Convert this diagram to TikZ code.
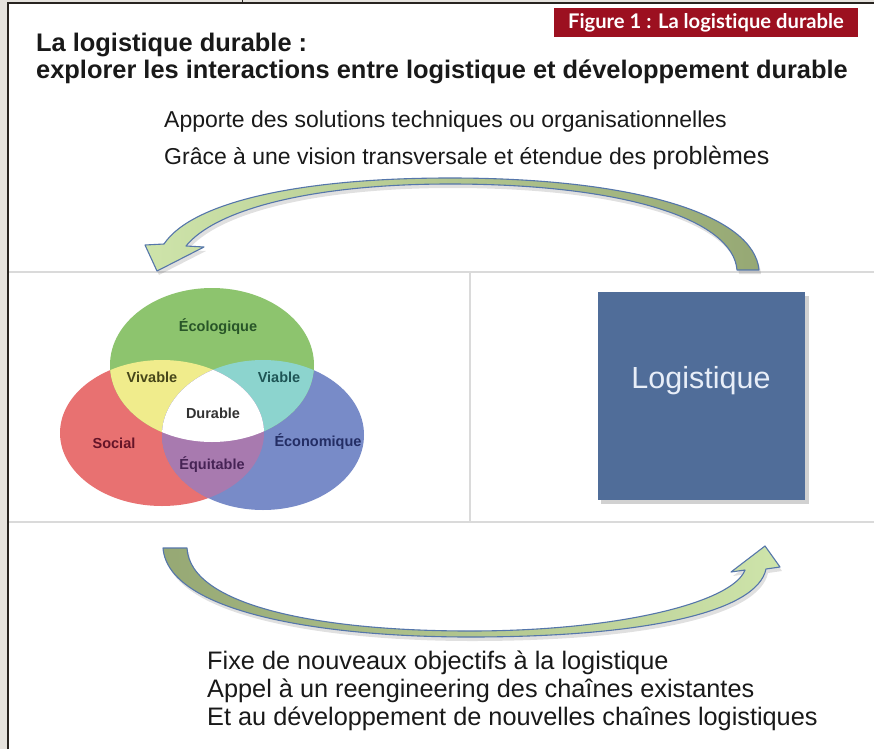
\documentclass[tikz,border=0pt]{standalone}
\usepackage{fontspec}
\setmainfont{Liberation Sans}
\newfontfamily\figfont[Ligatures=CommonOff]{Lato}
\definecolor{bggrey}{RGB}{230,227,222}
\definecolor{borderc}{RGB}{40,36,32}
\definecolor{figred}{RGB}{156,16,32}
\definecolor{sepgrey}{RGB}{218,218,218}
\definecolor{txtgrey}{RGB}{25,25,25}
\definecolor{vgreen}{RGB}{141,196,110}
\definecolor{vred}{RGB}{232,113,113}
\definecolor{vblue}{RGB}{120,139,200}
\definecolor{vyellow}{RGB}{240,236,140}
\definecolor{vteal}{RGB}{140,212,206}
\definecolor{vpurple}{RGB}{168,122,175}
\definecolor{logblue}{RGB}{80,109,153}
\definecolor{logtext}{RGB}{232,238,248}
\definecolor{arrlight}{RGB}{206,228,170}
\definecolor{arrdark}{RGB}{150,168,116}
\definecolor{arredge}{RGB}{85,118,170}
\newcommand{\TopArrowPath}{(759,270) .. controls (754,216) and (640,178) .. (450,178)
 .. controls (300,178) and (192,202) .. (164,244)
 -- (145,245) -- (157,271) -- (204,247) -- (186,246)
 .. controls (215,210) and (310,184) .. (450,184)
 .. controls (626,184) and (733,220) .. (737,270) -- cycle}
\newcommand{\BotArrowPath}{(163,548) .. controls (168,612) and (320,637) .. (470,637)
 .. controls (645,637) and (757,612) .. (766,569)
 -- (780,567) -- (765,546) -- (731,572) -- (745,570)
 .. controls (733,602) and (620,631) .. (470,631)
 .. controls (320,631) and (190,606) .. (187,548) -- cycle}
\begin{document}
\begin{tikzpicture}[x=1pt,y=-1pt,
  titletext/.style={anchor=base west, text=txtgrey, font=\bfseries\fontsize{25.4}{27}\selectfont, inner sep=0pt},
  toptext/.style={anchor=base west, text=txtgrey, font=\fontsize{23}{26}\selectfont, inner sep=0pt},
  bottext/.style={anchor=base west, text=txtgrey, font=\fontsize{25.3}{28}\selectfont, inner sep=0pt},
  venntext/.style={font=\bfseries\fontsize{14.5}{16}\selectfont, inner sep=0pt},
  sepline/.style={draw=sepgrey, line width=2pt},
  arrowedge/.style={draw=arredge, line width=1.1pt},
  shadowfill/.style={fill=black, opacity=0.12}
]
\useasboundingbox (0,0) rectangle (874,749);
% background and frame
\fill[bggrey] (0,0) rectangle (874,749);
\fill[white] (8,3) rectangle (874,749);
\draw[borderc, line width=1.4pt] (8,749) -- (8,3) -- (874,3);
\draw[borderc, line width=0.8pt] (242,0) -- (242,3);

% figure label
\node[fill=figred, text=white, font=\figfont\bfseries\fontsize{20.2}{20}\selectfont,
  minimum width=304pt, minimum height=29pt, inner sep=0pt] (figlabel) at (706,22.5) {Figure 1 : La logistique durable};

% title
\node[titletext] (title1) at (36,52) {La logistique durable :};
\node[titletext] (title2) at (36,79) {explorer les interactions entre logistique et développement durable};

% top texts
\node[toptext] (top1) at (164,128) {Apporte des solutions techniques ou organisationnelles};
\node[toptext] (top2) at (164,164) {Grâce à une vision transversale et étendue des {\fontsize{25}{26}\selectfont problèmes}};

% separators
\draw[sepline] (9,272) -- (874,272);
\draw[sepline] (9,522) -- (874,522);
\draw[sepline] (470,272) -- (470,522);

% top arrow
\begin{scope}[shift={(2,4)}]
  \fill[shadowfill] \TopArrowPath;
\end{scope}
\shade[left color=arrlight, right color=arrdark] \TopArrowPath;
\draw[arrowedge, line join=round] \TopArrowPath;

% bottom arrow
\begin{scope}[shift={(2,4)}]
  \fill[shadowfill] \BotArrowPath;
\end{scope}
\shade[left color=arrdark, right color=arrlight] \BotArrowPath;
\draw[arrowedge, line join=round] \BotArrowPath;

% Venn diagram
\fill[vred] (162,433) ellipse [x radius=102pt, y radius=73pt];
\fill[vblue] (263,435) ellipse [x radius=101pt, y radius=75pt];
\fill[vgreen] (212,365) ellipse [x radius=102pt, y radius=77pt];
\begin{scope}
  \clip (212,365) ellipse [x radius=102pt, y radius=77pt];
  \fill[vyellow] (162,433) ellipse [x radius=102pt, y radius=73pt];
  \fill[vteal] (263,435) ellipse [x radius=101pt, y radius=75pt];
\end{scope}
\begin{scope}
  \clip (162,433) ellipse [x radius=102pt, y radius=73pt];
  \fill[vpurple] (263,435) ellipse [x radius=101pt, y radius=75pt];
  \clip (263,435) ellipse [x radius=101pt, y radius=75pt];
  \fill[white] (212,365) ellipse [x radius=102pt, y radius=77pt];
\end{scope}
\node[venntext, text={rgb,255:red,40;green,85;blue,40}] (ecolo) at (218,327) {Écologique};
\node[venntext, text={rgb,255:red,70;green,70;blue,25}] (vivable) at (152,377) {Vivable};
\node[venntext, text={rgb,255:red,30;green,85;blue,85}] (viable) at (279,377) {Viable};
\node[venntext, text={rgb,255:red,50;green,50;blue,50}] (durable) at (213,413) {Durable};
\node[venntext, text={rgb,255:red,100;green,20;blue,40}] (social) at (114,443) {Social};
\node[venntext, text={rgb,255:red,35;green,45;blue,100}] (econo) at (318,442) {Économique};
\node[venntext, text={rgb,255:red,70;green,35;blue,85}] (equit) at (212,465) {Équitable};

% Logistique box
\fill[black, opacity=0.18] (601,296) rectangle (809,504);
\node[fill=logblue, minimum width=207pt, minimum height=208pt, inner sep=0pt] (logbox) at (701.5,396) {};
\node[text=logtext, font=\fontsize{30.5}{31}\selectfont, inner sep=0pt] (logtext) at (701,381) {Logistique};

% bottom texts
\node[bottext] (bot1) at (207,669) {Fixe de nouveaux objectifs à la logistique};
\node[bottext] (bot2) at (207,697) {Appel à un reengineering des chaînes existantes};
\node[bottext] (bot3) at (207,725) {Et au développement de nouvelles chaînes logistiques};
\end{tikzpicture}
\end{document}
